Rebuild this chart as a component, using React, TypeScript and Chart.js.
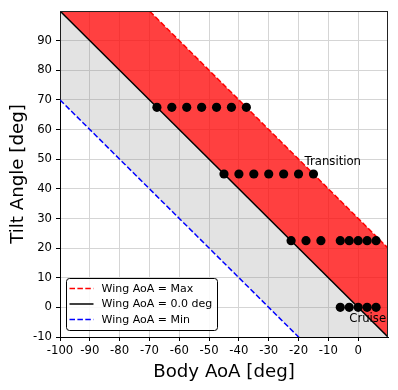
import React, { useEffect, useRef } from "react";
import { Chart, registerables } from "chart.js";

Chart.register(...registerables);

// Boundary lines (body AoA endpoints and tilt at those endpoints)
const bodyEnds = [-100, 10];
const maxLineTilt = [130, 20]; // Wing AoA = Max (30 deg)
const zeroLineTilt = [100, -10]; // Wing AoA = 0.0 deg
const minLineTilt = [70, -40]; // Wing AoA = Min (-30 deg)

// Operating points
const row1Body = [-67.5, -62.5, -57.5, -52.5, -47.5, -42.5, -37.5];
const row1Tilt = [67.5, 67.5, 67.5, 67.5, 67.5, 67.5, 67.5];
const row2Body = [-45, -40, -35, -30, -25, -20, -15];
const row2Tilt = [45, 45, 45, 45, 45, 45, 45];
const row3Body = [-22.5, -17.5, -12.5, -6, -3, 0, 3, 6];
const row3Tilt = [22.5, 22.5, 22.5, 22.5, 22.5, 22.5, 22.5, 22.5];
const row4Body = [-6, -3, 0, 3, 6];
const row4Tilt = [0, 0, 0, 0, 0];

const xTicks = [-100, -90, -80, -70, -60, -50, -40, -30, -20, -10, 0];
const yTicks = [-10, 0, 10, 20, 30, 40, 50, 60, 70, 80, 90];

const legendLabels = ["Wing AoA = Max", "Wing AoA = 0.0 deg", "Wing AoA = Min"];
const annotations = [
  { text: "Transition", x: -18, y: 48 },
  { text: "Cruise", x: -3, y: -5 },
];

const FONT = "'DejaVu Sans', sans-serif";
const DASH = [5.5, 2.4];

const zip = (xs: number[], ys: number[]) => xs.map((x, i) => ({ x, y: ys[i] }));

export default function App() {
  const ref = useRef<HTMLCanvasElement>(null);

  useEffect(() => {
    if (!ref.current) return;
    const overlay = {
      id: "overlay",
      afterDraw(chart: any) {
        const ctx = chart.ctx;
        const ca = chart.chartArea;
        const xs = chart.scales.x;
        const ys = chart.scales.y;
        ctx.save();
        // top/right frame
        ctx.strokeStyle = "#222";
        ctx.lineWidth = 1;
        ctx.beginPath();
        ctx.moveTo(ca.left, ca.top + 0.5);
        ctx.lineTo(ca.right, ca.top + 0.5);
        ctx.moveTo(ca.right - 0.5, ca.top);
        ctx.lineTo(ca.right - 0.5, ca.bottom);
        ctx.stroke();

        // annotations
        ctx.fillStyle = "#000";
        ctx.font = `11.7px ${FONT}`;
        ctx.textAlign = "left";
        ctx.textBaseline = "alphabetic";
        annotations.forEach((a) => {
          ctx.fillText(a.text, xs.getPixelForValue(a.x), ys.getPixelForValue(a.y));
        });

        // axis titles
        ctx.font = `18.2px ${FONT}`;
        ctx.textAlign = "center";
        ctx.fillText("Body AoA [deg]", (ca.left + ca.right) / 2, 377);
        ctx.save();
        ctx.translate(23, (ca.top + ca.bottom) / 2);
        ctx.rotate(-Math.PI / 2);
        ctx.fillText("Tilt Angle [deg]", 0, 0);
        ctx.restore();

        // legend
        const lx = ca.left + 6.5;
        const ly = ca.bottom - 58.5;
        const lw = 151;
        const lh = 52;
        ctx.beginPath();
        ctx.roundRect(lx, ly, lw, lh, 3);
        ctx.fillStyle = "rgba(255,255,255,0.85)";
        ctx.fill();
        ctx.strokeStyle = "#000";
        ctx.lineWidth = 1;
        ctx.stroke();
        const colors = ["#ff0000", "#000000", "#0000ff"];
        const dashes = [DASH, [], DASH];
        const rows = [ly + 10, ly + 25.5, ly + 41];
        ctx.font = `11px ${FONT}`;
        ctx.textAlign = "left";
        ctx.textBaseline = "middle";
        legendLabels.forEach((lab, i) => {
          ctx.beginPath();
          ctx.setLineDash(dashes[i]);
          ctx.strokeStyle = colors[i];
          ctx.lineWidth = 1.5;
          ctx.moveTo(lx + 3, rows[i]);
          ctx.lineTo(lx + 27, rows[i]);
          ctx.stroke();
          ctx.setLineDash([]);
          ctx.fillStyle = "#000";
          ctx.fillText(lab, lx + 35, rows[i] + 0.5);
        });
        ctx.restore();
      },
    };

    const lineDs = (tilts: number[], color: string, dash: number[], fill: any, bg: string) => ({
      type: "line",
      data: zip(bodyEnds, tilts),
      borderColor: color,
      borderWidth: 1.5,
      borderDash: dash,
      pointRadius: 0,
      fill,
      backgroundColor: bg,
      order: 2,
    });
    const ptsDs = (xs: number[], ys: number[]) => ({
      type: "line",
      data: zip(xs, ys),
      showLine: false,
      pointRadius: 4.6,
      pointBackgroundColor: "#000",
      pointBorderColor: "#000",
      pointBorderWidth: 0,
      fill: false,
      order: 0,
    });

    const chart = new Chart(ref.current, {
      type: "line",
      data: {
        datasets: [
          lineDs(maxLineTilt, "#ff0000", DASH, 1, "rgba(255,0,0,0.75)"),
          lineDs(zeroLineTilt, "#000000", [], 2, "rgba(128,128,128,0.22)"),
          lineDs(minLineTilt, "#0000ff", DASH, false, "transparent"),
          ptsDs(row1Body, row1Tilt),
          ptsDs(row2Body, row2Tilt),
          ptsDs(row3Body, row3Tilt),
          ptsDs(row4Body, row4Tilt),
        ] as any,
      },
      options: {
        responsive: false,
        animation: false,
        devicePixelRatio: 1,
        layout: { padding: { left: 0, right: 10, top: 10, bottom: 0 } },
        plugins: {
          legend: { display: false },
          tooltip: { enabled: false },
          filler: { drawTime: "beforeDatasetsDraw" },
        } as any,
        scales: {
          x: {
            type: "linear",
            min: -100,
            max: 10,
            afterBuildTicks: (s: any) => {
              s.ticks = xTicks.map((v) => ({ value: v }));
            },
            afterFit: (s: any) => {
              s.height = 53;
            },
            ticks: {
              color: "#000",
              font: { family: FONT, size: 11.7 },
              maxRotation: 0,
              autoSkip: false,
              padding: 3,
              callback: (v: any) => String(v),
            },
            grid: { color: "#d5d5d5", tickColor: "#000", tickLength: 4, lineWidth: 1 },
            border: { color: "#000", width: 1 },
          },
          y: {
            type: "linear",
            min: -10,
            max: 100,
            afterBuildTicks: (s: any) => {
              s.ticks = yTicks.map((v) => ({ value: v }));
            },
            afterFit: (s: any) => {
              s.width = 60;
            },
            ticks: {
              color: "#000",
              font: { family: FONT, size: 11.7 },
              autoSkip: false,
              padding: 4,
              callback: (v: any) => String(v),
            },
            grid: { color: "#d5d5d5", tickColor: "#000", tickLength: 4, lineWidth: 1 },
            border: { color: "#000", width: 1 },
          },
        },
      } as any,
      plugins: [overlay],
    });
    return () => chart.destroy();
  }, []);

  return (
    <div style={{ position: "fixed", left: 0, top: 0, width: 398, height: 390, background: "#fff" }}>
      <canvas ref={ref} width={398} height={390} style={{ display: "block" }} />
    </div>
  );
}
